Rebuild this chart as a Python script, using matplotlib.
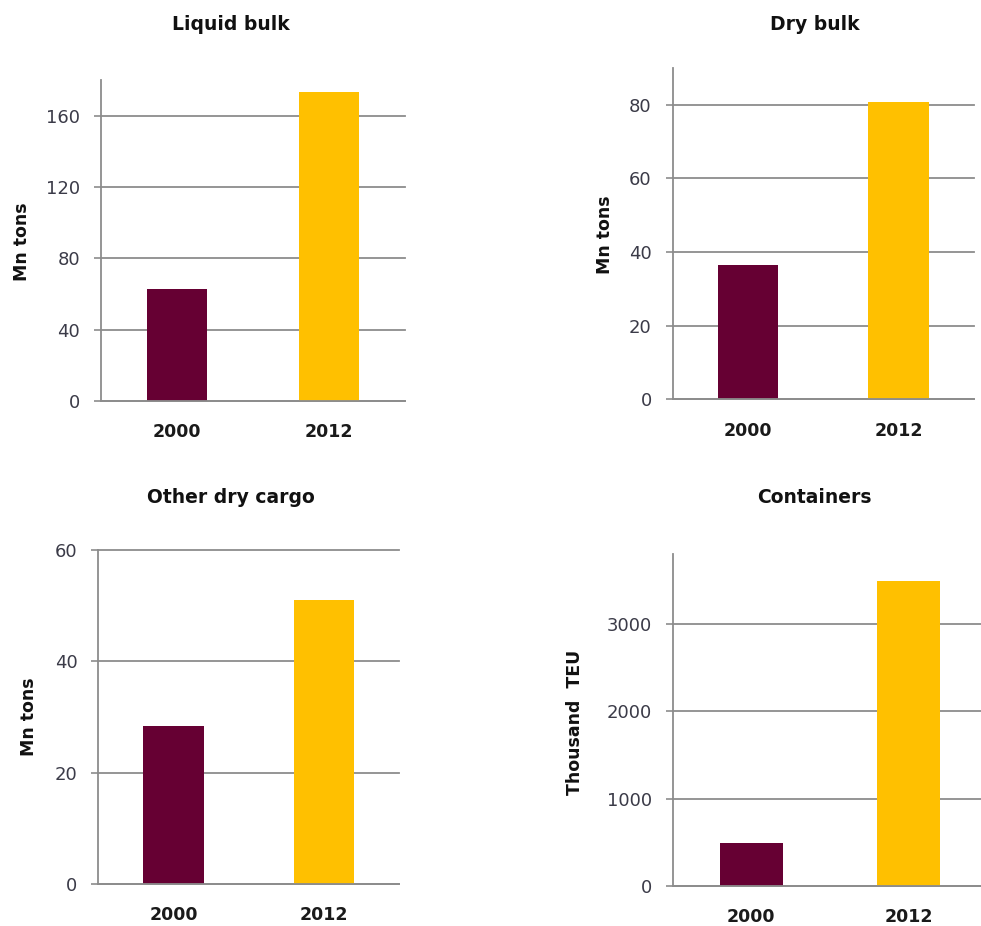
import matplotlib
matplotlib.use('Agg')
import matplotlib.pyplot as plt

years = ['2000', '2012']
bar_colors = ['#660033', '#FFC000']

titles = ['Liquid bulk', 'Dry bulk', 'Other dry cargo', 'Containers']
units = ['Mn tons', 'Mn tons', 'Mn tons', 'Thousand  TEU']

liquid_bulk = [63, 173]
dry_bulk = [36.6, 80.7]
other_dry_cargo = [28.4, 51]
containers = [493, 3493]

y_ticks = [
    [0, 40, 80, 120, 160],
    [0, 20, 40, 60, 80],
    [0, 20, 40, 60],
    [0, 1000, 2000, 3000],
]
y_max = [180, 90, 60, 3800]

GRID = '#8c8c8c'
TICK_TEXT = '#3b3b48'

fig = plt.figure(figsize=(9.81, 9.26), dpi=100)

# axes boxes in figure fractions: left, bottom, width, height
boxes = [
    [0.1030, 0.5670, 0.3099, 0.3467],
    [0.6857, 0.5688, 0.3071, 0.3578],
    [0.1002, 0.0454, 0.3065, 0.3607],
    [0.6857, 0.0435, 0.3207, 0.3579],
]
title_pos = [(231, 25), (815, 25), (231, 498), (814, 498)]
label_pos = [(22, 242), (605, 235), (29, 717), (575, 722)]

series = [liquid_bulk, dry_bulk, other_dry_cargo, containers]

for i in range(4):
    ax = fig.add_axes(boxes[i])
    ax.bar(range(len(years)), series[i], width=0.4, color=bar_colors, zorder=2)
    ax.set_xlim(-0.5, 1.5)
    ax.set_ylim(0, y_max[i])
    ax.set_yticks(y_ticks[i])
    ax.set_xticks(range(len(years)))
    ax.set_xticklabels(years, fontsize=12.5, fontweight='bold', color='#1a1a1a')
    ax.tick_params(axis='x', length=0, pad=16)
    ax.tick_params(axis='y', length=5, width=1.2, color=GRID, pad=10,
                   labelsize=13, labelcolor=TICK_TEXT)
    ax.grid(axis='y', color=GRID, linewidth=1.3, zorder=0)
    # keep the top gridline whole when it sits on the axes edge
    for line in ax.get_ygridlines():
        line.set_clip_on(False)
    ax.set_axisbelow(True)
    for side in ['top', 'right']:
        ax.spines[side].set_visible(False)
    for side in ['left', 'bottom']:
        ax.spines[side].set_color(GRID)
        ax.spines[side].set_linewidth(1.3)

    tx, ty = title_pos[i]
    fig.text(tx / 981, 1 - ty / 926, titles[i], ha='center', va='center',
             fontsize=13.5, fontweight='bold', color='#111111')
    lx, ly = label_pos[i]
    fig.text(lx / 981, 1 - ly / 926, units[i], ha='center', va='center',
             rotation=90, fontsize=12.5, fontweight='bold', color='#111111')

fig.savefig('out.png', dpi=100, facecolor='white')
